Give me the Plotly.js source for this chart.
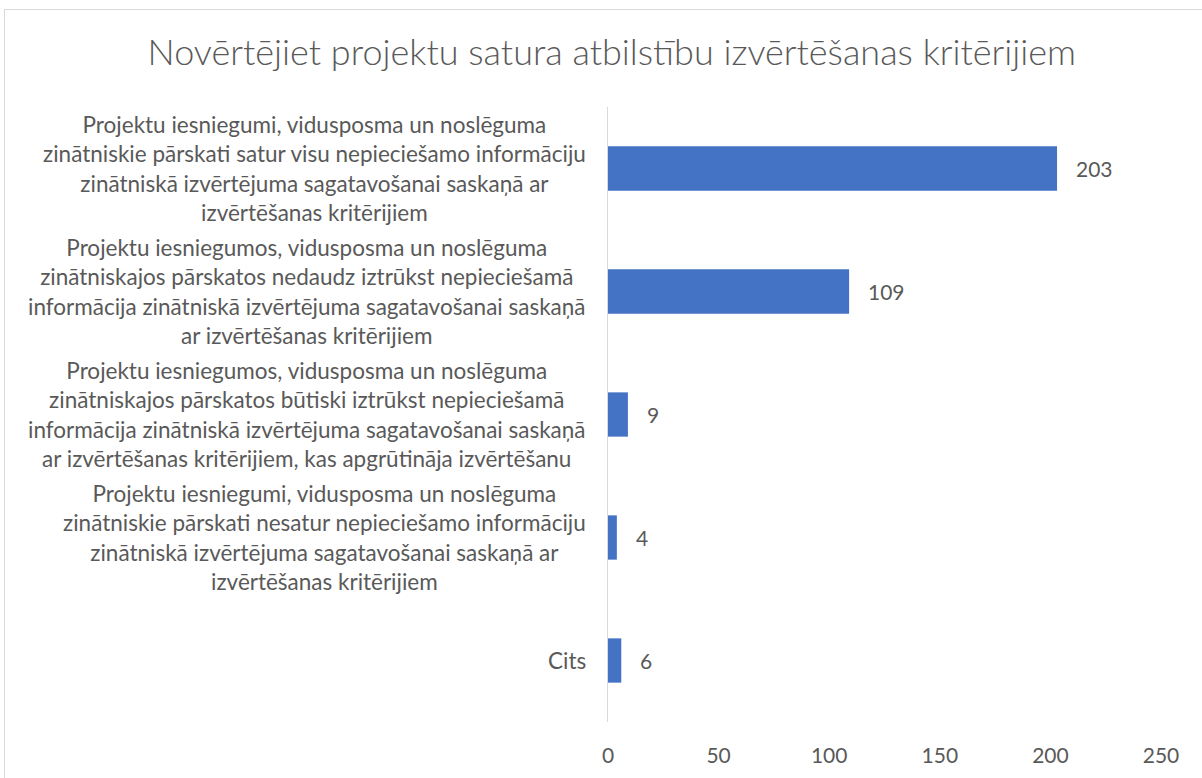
<!DOCTYPE html>
<html>
<head>
<meta charset="utf-8">
<script src="https://cdn.plot.ly/plotly-3.0.1.min.js"></script>
<style>
  html, body { margin: 0; padding: 0; background: #fff; overflow: hidden; }
  #chart { position: absolute; left: 0; top: 0; width: 1202px; height: 778px; }
  #frame { position: absolute; left: 4px; top: 9px; width: 1220px; height: 800px; border: 1px solid #d9d9d9; pointer-events: none; }
</style>
</head>
<body>
<div id="chart"></div>
<div id="frame"></div>
<script>
const titleText = "Novērtējiet projektu satura atbilstību izvērtēšanas kritērijiem";
const categories = [
  "Projektu iesniegumi, vidusposma un noslēguma<br>zinātniskie pārskati satur visu nepieciešamo informāciju<br>zinātniskā izvērtējuma sagatavošanai saskaņā ar<br>izvērtēšanas kritērijiem",
  "Projektu iesniegumos, vidusposma un noslēguma<br>zinātniskajos pārskatos nedaudz iztrūkst nepieciešamā<br>informācija zinātniskā izvērtējuma sagatavošanai saskaņā<br>ar izvērtēšanas kritērijiem",
  "Projektu iesniegumos, vidusposma un noslēguma<br>zinātniskajos pārskatos būtiski iztrūkst nepieciešamā<br>informācija zinātniskā izvērtējuma sagatavošanai saskaņā<br>ar izvērtēšanas kritērijiem, kas apgrūtināja izvērtēšanu",
  "Projektu iesniegumi, vidusposma un noslēguma<br>zinātniskie pārskati nesatur nepieciešamo informāciju<br>zinātniskā izvērtējuma sagatavošanai saskaņā ar<br>izvērtēšanas kritērijiem",
  "Cits"
];
const values = [203, 109, 9, 4, 6];
const xTicks = [0, 50, 100, 150, 200, 250];

const FONT = "Lato, Carlito, Calibri, 'Open Sans', sans-serif";
const TEXT = "#595959";

const trace = {
  type: "bar",
  orientation: "h",
  x: values,
  y: categories,
  marker: { color: "#4472C4" },
  hoverinfo: "none"
};

const labelAnn = categories.map((c) => ({
  xref: "paper", yref: "y",
  x: 0, y: c,
  xanchor: "right", yanchor: "middle",
  xshift: -20,
  text: c,
  align: "center",
  showarrow: false,
  font: { family: FONT, size: 22.5, color: TEXT }
}));

const valueAnn = values.map((v, i) => ({
  xref: "x", yref: "y",
  x: v, y: categories[i],
  xanchor: "left", yanchor: "middle",
  xshift: 17,
  text: String(v),
  showarrow: false,
  font: { family: FONT, size: 21, color: TEXT }
}));

const layout = {
  width: 1202, height: 778,
  margin: { l: 608, r: 41, t: 107, b: 56 },
  paper_bgcolor: "rgba(0,0,0,0)",
  plot_bgcolor: "rgba(0,0,0,0)",
  showlegend: false,
  bargap: 0.64,
  title: {
    text: titleText,
    x: 0.509, xanchor: "center",
    y: 0.933, yanchor: "middle",
    font: { family: FONT, size: 36, color: TEXT, weight: 300 }
  },
  xaxis: {
    range: [0, 250],
    tickvals: xTicks,
    ticktext: xTicks.map(String),
    showgrid: false, zeroline: false, showline: false,
    ticks: "outside", ticklen: 15, tickcolor: "rgba(0,0,0,0)",
    tickfont: { family: FONT, size: 21, color: TEXT },
    fixedrange: true
  },
  yaxis: {
    autorange: "reversed",
    showticklabels: false,
    showgrid: false, zeroline: false,
    showline: true, linecolor: "#d9d9d9", linewidth: 1.5,
    ticks: "",
    fixedrange: true
  },
  annotations: labelAnn.concat(valueAnn)
};

Plotly.newPlot("chart", [trace], layout, { displayModeBar: false, staticPlot: true });
</script>
</body>
</html>
